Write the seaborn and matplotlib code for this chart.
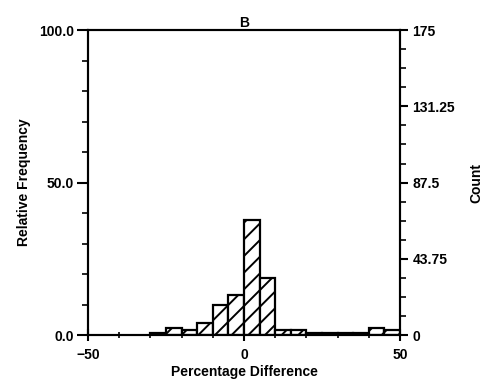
import numpy as np
import pandas as pd
import matplotlib
matplotlib.use('Agg')
import matplotlib.pyplot as plt
import seaborn as sns
from matplotlib.ticker import MultipleLocator, FixedLocator

sns.set_style('ticks')
plt.rcParams['font.family'] = ['Liberation Sans', 'DejaVu Sans']
plt.rcParams['font.weight'] = 'bold'
plt.rcParams['hatch.linewidth'] = 1.4
plt.rcParams['text.color'] = 'black'
plt.rcParams['axes.labelcolor'] = 'black'
plt.rcParams['xtick.color'] = 'black'
plt.rcParams['ytick.color'] = 'black'

# histogram data (bin width 5, percentage difference)
bin_left = [-30, -25, -20, -15, -10, -5, 0, 5, 10, 15, 20, 25, 30, 35, 40, 45]
counts = [1, 4, 3, 7, 17, 23, 66, 33, 3, 3, 1, 1, 1, 1, 4, 3]
n_total = 175
panel_title = 'B'
count_ticks = [0, 43.75, 87.5, 131.25, 175]
count_labels = ['0', '43.75', '87.5', '131.25', '175']

df = pd.DataFrame({'center': np.array(bin_left) + 2.5,
                   'pct': np.array(counts) / n_total * 100})
edges = list(bin_left) + [bin_left[-1] + 5]

fig = plt.figure(figsize=(4.98, 3.91), dpi=100)
ax = fig.add_axes([0.177, 0.143, 0.626, 0.78])

sns.histplot(data=df, x='center', weights='pct', bins=edges, ax=ax,
             color='white', edgecolor='black', linewidth=1.6, hatch='//',
             alpha=1)

fs = 10
ax.set_xlim(-50, 50)
ax.set_ylim(0, 100)
ax.set_title(panel_title, fontsize=fs, fontweight='bold', pad=2)
ax.set_xlabel('Percentage Difference', fontsize=fs, fontweight='bold', labelpad=2)
ax.set_ylabel('Relative Frequency', fontsize=fs, fontweight='bold', labelpad=6)

ax.set_xticks([-50, 0, 50])
ax.set_xticklabels(['\u221250', '0', '50'])
ax.xaxis.set_minor_locator(MultipleLocator(10))
ax.set_yticks([0, 50, 100])
ax.set_yticklabels(['0.0', '50.0', '100.0'])
ax.yaxis.set_minor_locator(MultipleLocator(10))

ax.tick_params(axis='x', which='major', direction='inout', length=9, width=1.5,
               labelsize=fs, pad=5)
ax.tick_params(axis='x', which='minor', direction='inout', length=5, width=1.2)
ax.tick_params(axis='y', which='major', direction='out', length=8, width=1.5,
               labelsize=fs, pad=2)
ax.tick_params(axis='y', which='minor', direction='out', length=4, width=1.2)

for s in ax.spines.values():
    s.set_linewidth(1.5)
    s.set_color('black')

ax2 = ax.twinx()
ax2.set_ylim(0, n_total)
ax2.yaxis.set_major_locator(FixedLocator(count_ticks))
ax2.set_yticklabels(count_labels)
ax2.yaxis.set_minor_locator(MultipleLocator(43.75 / 4))
ax2.tick_params(axis='y', which='major', direction='out', length=6, width=1.5,
                labelsize=fs, pad=3)
ax2.tick_params(axis='y', which='minor', direction='out', length=4, width=1.2)
ax2.set_ylabel('Count', fontsize=fs, fontweight='bold', labelpad=10)
for s in ax2.spines.values():
    s.set_linewidth(1.5)
    s.set_color('black')

fig.savefig('out.png', dpi=100)
